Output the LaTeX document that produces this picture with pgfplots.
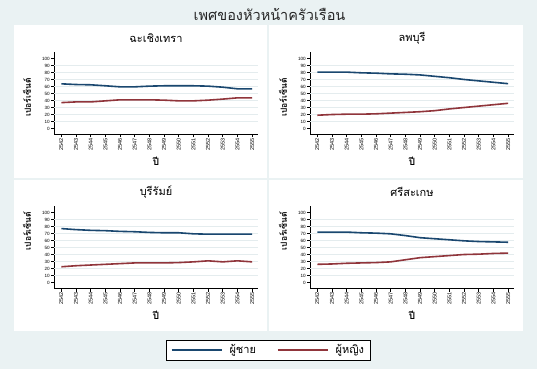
\documentclass[border=0pt]{standalone}
\usepackage{pgfplots}
\usepackage{pgfplotstable}
\pgfplotsset{compat=1.18}
\usepackage{fontspec}
\setmainfont{Liberation Sans}
\newfontfamily\thaifont[Script=Thai]{Loma}
\definecolor{bgc}{RGB}{234,242,243}
\definecolor{gridc}{RGB}{228,236,238}
\definecolor{snavy}{RGB}{26,71,111}
\definecolor{smaroon}{RGB}{144,53,59}

\pgfplotstableread{
year male female
2542 63.8 37
2543 62.8 38
2544 62.4 38
2545 61 39.5
2546 59.5 41
2547 59.5 41
2548 60.5 41
2549 61 40.5
2550 61 39.5
2551 61 39.5
2552 60.5 40.5
2553 59 42
2554 56.7 43.8
2555 56.7 43.8
}\tabA
\pgfplotstableread{
year male female
2542 80.5 19
2543 80.5 20
2544 80.5 20.5
2545 79.5 20.5
2546 79 21
2547 78 22
2548 77.5 23
2549 76.5 24
2550 74.5 25.5
2551 72.5 28
2552 70 30
2553 68 32
2554 66 34
2555 64 36
}\tabB
\pgfplotstableread{
year male female
2542 77 22.5
2543 75.5 24
2544 74.5 25
2545 74 26
2546 73 27
2547 72.5 28
2548 71.5 28
2549 71 28
2550 71 28.5
2551 69.5 29.5
2552 69 31
2553 69 29.5
2554 69 31
2555 69 29.5
}\tabC
\pgfplotstableread{
year male female
2542 72 26
2543 72 26.5
2544 72 27.5
2545 71 28
2546 70.5 28.5
2547 69.5 29.5
2548 67 32.5
2549 64 35.5
2550 62.5 37
2551 61 38.5
2552 59.5 40
2553 58.5 40.5
2554 58 41.5
2555 57.5 42
}\tabD

\pgfplotsset{panel/.style={
  scale only axis, width=204pt, height=82pt, anchor=south west,
  xmin=2541.5, xmax=2555.4, ymin=-8.5, ymax=108.5,
  axis x line*=bottom, axis y line*=left,
  xtick={2542,...,2555}, ytick={0,10,...,100},
  tick align=outside, major tick length=3pt,
  tick style={black, line width=0.6pt},
  axis line style={black, line width=0.9pt},
  /pgf/number format/assume math mode=true,
  /pgf/number format/1000 sep={},
  x tick label style={rotate=90, anchor=east, inner sep=1pt, font=\fontsize{5.5}{6}\selectfont},
  y tick label style={inner sep=1pt, font=\fontsize{4.6}{5}\selectfont},
  extra y ticks={10,20,...,90}, extra y tick labels={},
  extra y tick style={grid=major, major tick length=0pt, major grid style={draw=gridc, line width=0.7pt}},
  xlabel={\thaifont ปี}, 
  xlabel style={at={(axis description cs:0.5,-0.33)}, anchor=center, font=\thaifont\bfseries\fontsize{10}{11}\selectfont},
  ylabel={\thaifont เปอร์เซ็นต์},
  ylabel style={at={(axis description cs:-0.132,0.45)}, anchor=center, font=\thaifont\bfseries\fontsize{8.5}{9}\selectfont},
  title style={at={(axis description cs:0.5,1.10)}, anchor=center, font=\thaifont\fontsize{11}{12}\selectfont},
  legend image code/.code={\draw[#1] (0pt,0pt) -- (50pt,0pt);},
}}
\begin{document}
\begin{tikzpicture}
\useasboundingbox (0,0) rectangle (537pt,369pt);
\fill[bgc] (0,0) rectangle (537pt,369pt);
\fill[white] (14pt,191pt) rectangle (267pt,344pt);
\fill[white] (269pt,191pt) rectangle (523pt,344pt);
\fill[white] (14pt,38pt) rectangle (267pt,189pt);
\fill[white] (269pt,38pt) rectangle (523pt,189pt);
\node[font=\thaifont\fontsize{14.5}{16}\selectfont, text=black!85] at (269.5pt,355pt) {เพศของหัวหน้าครัวเรือน};

\begin{axis}[panel, at={(54pt,234.5pt)}, title={ฉะเชิงเทรา}]
\addplot[snavy, line width=1.6pt] table[x=year,y=male] {\tabA};
\addplot[smaroon, line width=1.6pt] table[x=year,y=female] {\tabA};
\end{axis}
\begin{axis}[panel, at={(310pt,234.5pt)}, title={ลพบุรี}]
\addplot[snavy, line width=1.6pt] table[x=year,y=male] {\tabB};
\addplot[smaroon, line width=1.6pt] table[x=year,y=female] {\tabB};
\end{axis}
\begin{axis}[panel, at={(54pt,80.5pt)}, title={บุรีรัมย์},
  ylabel style={at={(axis description cs:-0.132,0.70)}},
  legend columns=2,
  legend style={at={(axis description cs:1.0515,-0.75)}, anchor=center, draw=black, line width=0.6pt, fill=white,
    inner xsep=4.5pt, inner ysep=2.5pt, font=\thaifont\fontsize{11}{12}\selectfont,
    /tikz/every odd column/.append style={column sep=5pt},
    /tikz/every even column/.append style={column sep=19pt}}]
\addplot[snavy, line width=1.6pt] table[x=year,y=male] {\tabC};
\addlegendentry{ผู้ชาย}
\addplot[smaroon, line width=1.6pt] table[x=year,y=female] {\tabC};
\addlegendentry{ผู้หญิง}
\end{axis}
\begin{axis}[panel, at={(310pt,80.5pt)}, title={ศรีสะเกษ},
  ylabel style={at={(axis description cs:-0.132,0.70)}}]
\addplot[snavy, line width=1.6pt] table[x=year,y=male] {\tabD};
\addplot[smaroon, line width=1.6pt] table[x=year,y=female] {\tabD};
\end{axis}
\end{tikzpicture}
\end{document}
